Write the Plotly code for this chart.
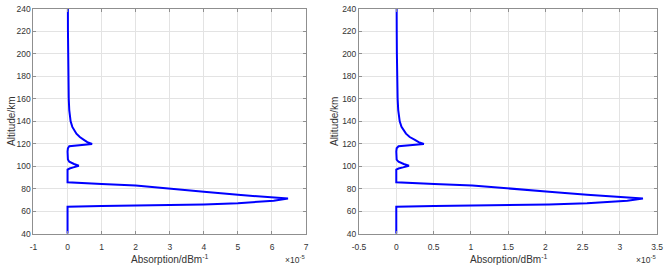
import plotly.graph_objects as go

# Altitude grid (km) shared by both panels
altitude_km = [40, 64, 64.6, 64.9, 65.4, 66.0, 67.1, 68.0, 69.4, 71.4, 72.3, 74.6, 77.4,
               80.3, 82.9, 84.3, 85.8, 97.0, 98.0, 99.0, 100.5, 102.0, 104.0, 106.0,
               109.0, 113.0, 116.0, 117.8, 119.8, 121.5, 123.5, 126.0, 129.0, 132.0,
               135.0, 140.0, 145.0, 150.0, 160.0, 170.0, 180.0, 200.0, 220.0, 240.0]

# Absorption (x 1e-5 dB/m), left panel
absorption_left = [0, 0, 1.0, 2.0, 3.0, 4.0, 5.0, 5.5, 6.05, 6.47, 5.95, 5.0, 4.0,
                   3.0, 2.0, 1.0, 0, 0, 0.06, 0.17, 0.33, 0.19, 0.05, 0.01,
                   0, 0, 0.01, 0.05, 0.72, 0.58, 0.48, 0.36, 0.26, 0.19,
                   0.14, 0.09, 0.065, 0.05, 0.035, 0.028, 0.022, 0.016, 0.012, 0.01]

# Absorption (x 1e-5 dB/m), right panel
absorption_right = [0, 0, 0.51, 1.02, 1.54, 2.05, 2.56, 2.82, 3.10, 3.31, 3.05, 2.56, 2.05,
                    1.54, 1.02, 0.51, 0, 0, 0.03, 0.09, 0.17, 0.10, 0.03, 0.005,
                    0, 0, 0.005, 0.03, 0.37, 0.30, 0.25, 0.18, 0.13, 0.10,
                    0.07, 0.046, 0.033, 0.026, 0.018, 0.014, 0.011, 0.008, 0.006, 0.005]

left_xticks = [-1, 0, 1, 2, 3, 4, 5, 6, 7]
left_xticktext = ["-1", "0", "1", "2", "3", "4", "5", "6", "7"]
right_xticks = [-0.5, 0, 0.5, 1, 1.5, 2, 2.5, 3, 3.5]
right_xticktext = ["-0.5", "0", "0.5", "1", "1.5", "2", "2.5", "3", "3.5"]
yticks = [40, 60, 80, 100, 120, 140, 160, 180, 200, 220, 240]

W, H = 669, 271
FONT = "Liberation Sans, Arial, sans-serif"
TXT = "#333333"
FRAME = "#8f8f8f"
GRID = "#e3e3e3"

fig = go.Figure()
fig.add_trace(go.Scatter(x=absorption_left, y=altitude_km, mode="lines",
                         line=dict(color="#0000ff", width=2), xaxis="x", yaxis="y",
                         showlegend=False))
fig.add_trace(go.Scatter(x=absorption_right, y=altitude_km, mode="lines",
                         line=dict(color="#0000ff", width=2), xaxis="x2", yaxis="y2",
                         showlegend=False))

# plot areas in pixels
L = (27, 305)
R = (359, 663)
top, bot = 4, 237.5
yd = [1 - bot / H, 1 - top / H]

common_ax = dict(showline=True, linecolor=FRAME, linewidth=1, mirror="ticks",
                 ticks="inside", ticklen=3, tickcolor=FRAME, showgrid=True,
                 gridcolor=GRID, gridwidth=1, zeroline=False,
                 ticklabeloverflow="allow",
                 tickfont=dict(family=FONT, size=8.5, color=TXT))

fig.update_layout(
    width=W, height=H, margin=dict(l=0, r=0, t=0, b=0),
    paper_bgcolor="white", plot_bgcolor="white",
    xaxis=dict(domain=[L[0] / W, L[1] / W], range=[-1, 7], tickvals=left_xticks,
               ticktext=left_xticktext, anchor="y", ticklabelstandoff=5, **common_ax),
    yaxis=dict(domain=yd, range=[40, 240], tickvals=yticks, anchor="x",
               ticklabelstandoff=0, **common_ax),
    xaxis2=dict(domain=[R[0] / W, R[1] / W], range=[-0.5, 3.5], tickvals=right_xticks,
                ticktext=right_xticktext, anchor="y2", ticklabelstandoff=5, **common_ax),
    yaxis2=dict(domain=yd, range=[40, 240], tickvals=yticks, anchor="x2",
                ticklabelstandoff=0, **common_ax),
)

title_font = dict(family=FONT, size=10, color=TXT)
ann_y = 1 - 264 / H
for (x0, x1), ytx in [(L, 4.5), (R, 334)]:
    fig.add_annotation(text="Absorption/dBm<sup>-1</sup>", xref="paper", yref="paper",
                       x=(x0 + x1) / 2 / W, y=ann_y, xanchor="center", yanchor="middle",
                       showarrow=False, font=title_font)
    fig.add_annotation(text="\u00d710<sup>-5</sup>", xref="paper", yref="paper",
                       x=(x1 + 1) / W, y=ann_y, xanchor="right", yanchor="middle",
                       showarrow=False, font=dict(family=FONT, size=8.5, color=TXT))
    fig.add_annotation(text="Altitude/km", xref="paper", yref="paper",
                       x=ytx / W, y=1 - 121 / H, xanchor="center", yanchor="middle",
                       textangle=-90, showarrow=False, font=title_font)

fig.write_html("out.html")
